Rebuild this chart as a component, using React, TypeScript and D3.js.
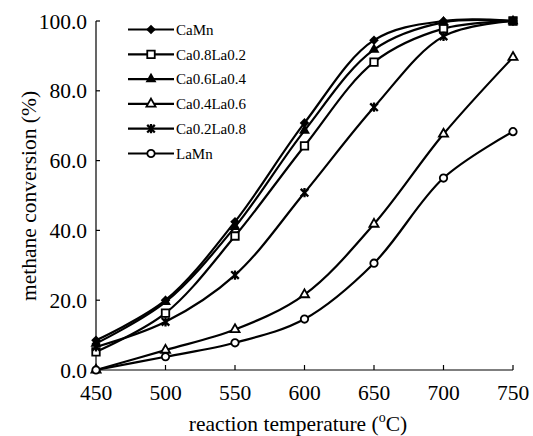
import { useEffect, useRef } from 'react';
import * as d3 from 'd3';

const temperatures = [450, 500, 550, 600, 650, 700, 750];

const caMn = [8.5, 20.0, 42.5, 70.8, 94.5, 100.0, 100.0];
const ca08La02 = [5.2, 16.3, 38.4, 64.2, 88.2, 97.8, 100.0];
const ca06La04 = [7.6, 19.5, 41.0, 68.6, 91.8, 99.6, 100.0];
const ca04La06 = [0.0, 5.7, 11.6, 21.6, 41.8, 67.6, 89.6];
const ca02La08 = [6.6, 13.8, 27.2, 50.8, 75.3, 95.6, 100.0];
const laMn = [0.0, 3.8, 7.8, 14.6, 30.6, 55.0, 68.3];

const seriesNames = ['CaMn', 'Ca0.8La0.2', 'Ca0.6La0.4', 'Ca0.4La0.6', 'Ca0.2La0.8', 'LaMn'];
const seriesValues = [caMn, ca08La02, ca06La04, ca04La06, ca02La08, laMn];
const markerKinds = ['diamond', 'square', 'triangle', 'triangleOpen', 'star', 'circle'];

const xTicks = [450, 500, 550, 600, 650, 700, 750];
const yTicks = [0, 20, 40, 60, 80, 100];

const FONT = '"Liberation Serif", "Times New Roman", serif';

function drawMarker(g: d3.Selection<SVGGElement, unknown, null, undefined>, kind: string, x: number, y: number) {
  const m = g.append('g').attr('transform', `translate(${x},${y})`);
  if (kind === 'diamond') {
    const r = 4.8;
    m.append('path').attr('d', `M0,${-r}L${r},0L0,${r}L${-r},0Z`).attr('fill', '#000');
  } else if (kind === 'square') {
    m.append('path').attr('d', d3.symbol(d3.symbolSquare, 56)())
      .attr('fill', '#fff').attr('stroke', '#000').attr('stroke-width', 1.8);
  } else if (kind === 'triangle') {
    m.append('path').attr('d', d3.symbol(d3.symbolTriangle, 52)()).attr('fill', '#000');
  } else if (kind === 'triangleOpen') {
    m.append('path').attr('d', d3.symbol(d3.symbolTriangle, 36)())
      .attr('fill', '#fff').attr('stroke', '#000').attr('stroke-width', 1.8);
  } else if (kind === 'star') {
    const s = 3.8;
    m.append('path')
      .attr('d', `M${-s},${-s}L${s},${s}M${-s},${s}L${s},${-s}M0,${-s - 0.8}L0,${s + 0.8}`)
      .attr('stroke', '#000').attr('stroke-width', 2.3).attr('fill', 'none');
  } else {
    m.append('circle').attr('r', 3.7)
      .attr('fill', '#fff').attr('stroke', '#000').attr('stroke-width', 1.8);
  }
}

export default function App() {
  const ref = useRef<SVGSVGElement | null>(null);

  useEffect(() => {
    const svgEl = ref.current;
    if (!svgEl) return;
    const svg = d3.select(svgEl);
    svg.selectAll('*').remove();

    const x = d3.scaleLinear().domain([450, 750]).range([96, 513]);
    const y = d3.scaleLinear().domain([0, 100]).range([370, 21]);

    svg.append('rect').attr('width', 533).attr('height', 436).attr('fill', '#fff');

    // axes
    const axes = svg.append('g').attr('stroke', '#000').attr('stroke-width', 1.2);
    axes.append('line').attr('x1', 96).attr('x2', 96).attr('y1', y(100)).attr('y2', y(0));
    axes.append('line').attr('x1', 96).attr('x2', 513).attr('y1', y(0)).attr('y2', y(0));
    axes.selectAll('.yt').data(yTicks).join('line')
      .attr('x1', 96).attr('x2', 100)
      .attr('y1', (d) => y(d)).attr('y2', (d) => y(d));
    axes.selectAll('.xt').data(xTicks).join('line')
      .attr('x1', (d) => x(d)).attr('x2', (d) => x(d))
      .attr('y1', y(0)).attr('y2', y(0) - 5);

    svg.append('g').selectAll('text').data(yTicks).join('text')
      .attr('x', 87).attr('y', (d) => y(d)).attr('dy', '0.35em')
      .attr('text-anchor', 'end').attr('font-family', FONT).attr('font-size', 21.5)
      .text((d) => d3.format('.1f')(d));

    svg.append('g').selectAll('text').data(xTicks).join('text')
      .attr('x', (d) => x(d)).attr('y', 400)
      .attr('text-anchor', 'middle').attr('font-family', FONT).attr('font-size', 21.5)
      .text((d) => d);

    const xl = svg.append('text').attr('x', 298).attr('y', 431)
      .attr('text-anchor', 'middle').attr('font-family', FONT).attr('font-size', 21.5);
    xl.append('tspan').text('reaction temperature (');
    xl.append('tspan').attr('font-size', 14).attr('dy', -9).text('o');
    xl.append('tspan').attr('dy', 9).text('C)');

    svg.append('text')
      .attr('transform', 'translate(36,196) rotate(-90)')
      .attr('text-anchor', 'middle').attr('font-family', FONT).attr('font-size', 21.5)
      .text('methane conversion (%)');

    const line = d3.line<number>()
      .x((_, i) => x(temperatures[i]))
      .y((d) => y(d))
      .curve(d3.curveCatmullRom.alpha(0.5));

    const plot = svg.append('g');
    seriesValues.forEach((vals) => {
      plot.append('path').attr('d', line(vals))
        .attr('fill', 'none').attr('stroke', '#000').attr('stroke-width', 2.2);
    });
    seriesValues.forEach((vals, si) => {
      const mg = plot.append('g');
      vals.forEach((v, i) => drawMarker(mg, markerKinds[si], x(temperatures[i]), y(v)));
    });

    // legend
    const legend = svg.append('g');
    seriesNames.forEach((name, i) => {
      const ly = 29.5 + i * 24.8;
      legend.append('line').attr('x1', 128).attr('x2', 174).attr('y1', ly).attr('y2', ly)
        .attr('stroke', '#000').attr('stroke-width', 2.2);
      drawMarker(legend, markerKinds[i], 151, ly);
      legend.append('text').attr('x', 176).attr('y', ly).attr('dy', '0.35em')
        .attr('font-family', FONT).attr('font-size', 15).text(name);
    });
  }, []);

  return (
    <div style={{ position: 'absolute', left: 0, top: 0 }}>
      <svg ref={ref} width={533} height={436} />
    </div>
  );
}
